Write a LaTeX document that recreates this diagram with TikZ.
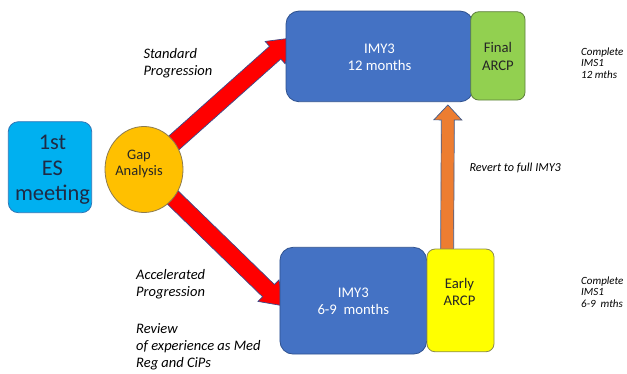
\documentclass[tikz,border=0pt]{standalone}
\usepackage{fontspec}
\setmainfont{Carlito}
\usetikzlibrary{calc,shapes.geometric,backgrounds}
\definecolor{cyanbox}{HTML}{00B0F0}
\definecolor{cyanline}{HTML}{2E75B6}
\definecolor{bluebox}{HTML}{4472C4}
\definecolor{blueline}{HTML}{2F528F}
\definecolor{greenbox}{HTML}{92D050}
\definecolor{greenline}{HTML}{5E7F3E}
\definecolor{yellowbox}{HTML}{FFFF00}
\definecolor{yellowline}{HTML}{8C8C50}
\definecolor{gapfill}{HTML}{FFC000}
\definecolor{gapline}{HTML}{8C7B50}
\definecolor{redarrow}{HTML}{FF0000}
\definecolor{orangearrow}{HTML}{ED7D31}
\definecolor{arrowline}{HTML}{3B4A8A}
\definecolor{navytext}{HTML}{1F2A44}
\definecolor{darktext}{HTML}{262626}
\newcommand{\blkarrow}[6]{%
  \coordinate (hb) at ($(#2)!#5!(#1)$);
  \draw[#6] ($(#1)!#3!90:(#2)$) -- ($(hb)!#3!-90:(#1)$) -- ($(hb)!#4!-90:(#1)$)
    -- (#2) -- ($(hb)!#4!90:(#1)$) -- ($(hb)!#3!90:(#1)$) -- ($(#1)!#3!-90:(#2)$) -- cycle;}
\tikzset{
  shapebox/.style={draw, line width=0.8pt, inner sep=0pt},
  esbox/.style={shapebox, rounded corners=10pt, fill=cyanbox, draw=cyanline, minimum width=83.4pt, minimum height=91pt},
  gapnode/.style={shapebox, ellipse, fill=gapfill, draw=gapline, minimum width=78pt, minimum height=86pt},
  imybox/.style={shapebox, rounded corners=13pt, fill=bluebox, draw=blueline},
  finalbox/.style={shapebox, rounded corners=8pt, fill=greenbox, draw=greenline},
  earlybox/.style={shapebox, rounded corners=8pt, fill=yellowbox, draw=yellowline},
  boxtext/.style={inner sep=0pt, align=center, anchor=base, font=\fontsize{14.7pt}{17.7pt}\selectfont},
  sidetext/.style={inner sep=0pt, align=left, anchor=base west, text=black, font=\fontsize{14.5pt}{17.4pt}\selectfont\itshape},
  righttext/.style={inner sep=0pt, align=left, anchor=base west, text=black, font=\fontsize{11pt}{11.5pt}\selectfont\itshape},
  redblk/.style={fill=redarrow, draw=arrowline, line width=0.7pt, line join=miter},
  orangeblk/.style={fill=orangearrow, draw=blueline!80!gray, line width=0.7pt, line join=miter}
}
\begin{document}
\begin{tikzpicture}[x=1pt,y=-1pt]
\useasboundingbox (0,0) rectangle (627,374);
% shapes
\node[esbox] (es) at (50,167.2) {};
\node[gapnode] (gap) at (144,169.5) {};
\node[imybox, minimum width=187pt, minimum height=90.7pt] (top) at (379.5,56.4) {};
\node[finalbox, minimum width=54.3pt, minimum height=88.3pt] (final) at (497.9,55.9) {};
\node[imybox, minimum width=146.7pt, minimum height=106.7pt] (bot) at (353.3,300.7) {};
\node[earlybox, minimum width=67pt, minimum height=102.7pt] (early) at (460.5,300.4) {};
% arrows behind
\begin{scope}[on background layer]
  \coordinate (toptip) at ($(top.west)+(6,-18.4)$);
  \coordinate (bottip) at ($(bot.west)+(4.7,5.3)$);
  \blkarrow{gap.center}{toptip}{8.5pt}{15pt}{22pt}{redblk}
  \blkarrow{gap.center}{bottip}{8.5pt}{15pt}{22pt}{redblk}
  \coordinate (ostart) at ($(early.north west)+(20.5,8)$);
  \coordinate (otip) at ($(top.south east)+(-25.5,2.8)$);
  \blkarrow{ostart}{otip}{6.5pt}{14pt}{15pt}{orangeblk}
\end{scope}
% texts in shapes (anchor base = baseline of the last line)
\node[boxtext, text=navytext, font=\fontsize{22.4pt}{25.5pt}\selectfont] (estext) at (52.5,201) {1st\\ES\\meeting};
\node[boxtext, text=darktext, font=\fontsize{14.5pt}{16.8pt}\selectfont] (gaptext) at (139,176) {Gap\\Analysis};
\node[boxtext, text=white] (toptext) at (379.5,71) {IMY3\\12 months};
\node[boxtext, text=darktext] (finaltext) at (497.9,70.5) {Final\\ARCP};
\node[boxtext, text=white] (bottext) at (353.3,315) {IMY3\\6-9~~months};
\node[boxtext, text=darktext, font=\fontsize{14.7pt}{17pt}\selectfont] (earlytext) at (459.5,305.5) {Early\\ARCP};
% side texts
\node[sidetext] (std) at (143.3,76) {Standard\\Progression};
\node[sidetext] (acc) at (136,296.7) {Accelerated\\Progression};
\node[sidetext, font=\fontsize{14.5pt}{16.7pt}\selectfont\itshape] (rev) at (136,367.3) {Review\\of experience as Med\\Reg and CiPs};
\node[sidetext, font=\fontsize{12.2pt}{14pt}\selectfont\itshape] (revert) at (469.3,171.7) {Revert to full IMY3};
\node[righttext] (comp1) at (581,78.5) {Complete\\IMS1\\12 mths};
\node[righttext] (comp2) at (581,307.5) {Complete\\IMS1\\6-9~~mths};
\end{tikzpicture}
\end{document}
